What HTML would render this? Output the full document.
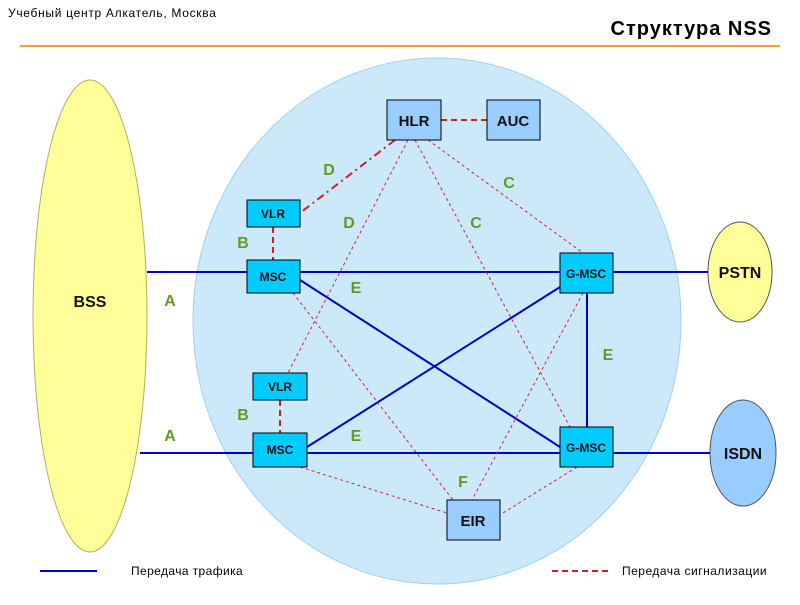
<!DOCTYPE html>
<html><head><meta charset="utf-8"><style>body{margin:0;background:#fff}</style></head><body>
<svg width="800" height="600" xmlns="http://www.w3.org/2000/svg" font-family="Liberation Sans, sans-serif">
<text x="8" y="17" font-size="12" letter-spacing="0.7" fill="#000">Учебный центр Алкатель, Москва</text>
<text x="772" y="35" font-size="20" font-weight="bold" letter-spacing="1" text-anchor="end" fill="#000">Структура NSS</text>
<line x1="20" y1="46" x2="780" y2="46" stroke="#f0a030" stroke-width="2"/>
<ellipse cx="437" cy="321" rx="244" ry="263" fill="#cce9fb" stroke="#9fd0f0"/>
<ellipse cx="90" cy="316" rx="57" ry="236" fill="#ffff99" stroke="#b0b060"/>
<ellipse cx="740" cy="272" rx="32" ry="50" fill="#ffff99" stroke="#555"/>
<ellipse cx="743" cy="453" rx="33" ry="53" fill="#99ccff" stroke="#555"/>
<g stroke="#0000cc" stroke-width="2">
<line x1="147" y1="272" x2="708" y2="272"/>
<line x1="140" y1="453" x2="710" y2="453"/>
<line x1="300" y1="280" x2="560" y2="447"/>
<line x1="307" y1="447" x2="560" y2="287"/>
<line x1="587" y1="293" x2="587" y2="427"/>
</g>
<g stroke="#cc2233" stroke-width="1" stroke-dasharray="3,3" fill="none">
<line x1="408" y1="140" x2="288" y2="373"/>
<line x1="415" y1="140" x2="570" y2="427"/>
<line x1="428" y1="140" x2="583" y2="253"/>
<line x1="293" y1="293" x2="453" y2="500"/>
<line x1="583" y1="293" x2="472" y2="500"/>
<line x1="300" y1="467" x2="447" y2="513"/>
<line x1="577" y1="467" x2="503" y2="513"/>
</g>
<line x1="395" y1="140" x2="300" y2="213" stroke="#cc2222" stroke-width="2" stroke-dasharray="8,4,2,4"/>
<g stroke="#cc2222" stroke-width="2" stroke-dasharray="6,4">
<line x1="441" y1="120" x2="487" y2="120"/>
<line x1="273" y1="227" x2="273" y2="260"/>
<line x1="280" y1="400" x2="280" y2="433"/>
</g>
<g stroke="#000" stroke-width="1">
<rect x="387" y="100" width="54" height="40" fill="#99ccff"/>
<rect x="487" y="100" width="53" height="40" fill="#99ccff"/>
<rect x="447" y="500" width="53" height="40" fill="#99ccff"/>
<rect x="247" y="200" width="53" height="27" fill="#00ccff"/>
<rect x="247" y="260" width="53" height="33" fill="#00ccff"/>
<rect x="253" y="373" width="54" height="27" fill="#00ccff"/>
<rect x="253" y="433" width="54" height="34" fill="#00ccff"/>
<rect x="560" y="253" width="53" height="40" fill="#00ccff"/>
<rect x="560" y="427" width="53" height="40" fill="#00ccff"/>
</g>
<g font-weight="bold" text-anchor="middle" fill="#111">
<text x="414" y="126" font-size="15">HLR</text>
<text x="513" y="126" font-size="15">AUC</text>
<text x="473" y="526" font-size="15">EIR</text>
<text x="273" y="218" font-size="12">VLR</text>
<text x="273" y="281" font-size="12">MSC</text>
<text x="280" y="391" font-size="12">VLR</text>
<text x="280" y="454" font-size="12">MSC</text>
<text x="586" y="278" font-size="12">G-MSC</text>
<text x="586" y="452" font-size="12">G-MSC</text>
<text x="90" y="307" font-size="16">BSS</text>
<text x="740" y="278" font-size="16">PSTN</text>
<text x="743" y="459" font-size="16">ISDN</text>
</g>
<g font-weight="bold" font-size="16" fill="#669922" text-anchor="middle">
<text x="329" y="175">D</text><text x="349" y="228">D</text>
<text x="509" y="188">C</text><text x="476" y="228">C</text>
<text x="243" y="248">B</text><text x="243" y="420">B</text>
<text x="356" y="293">E</text><text x="356" y="441">E</text><text x="608" y="360">E</text>
<text x="170" y="306">A</text><text x="170" y="441">A</text>
<text x="463" y="487">F</text>
</g>
<line x1="40" y1="571" x2="97" y2="571" stroke="#0000cc" stroke-width="2"/>
<text x="131" y="575" font-size="12" letter-spacing="0.4">Передача трафика</text>
<line x1="552" y1="571" x2="610" y2="571" stroke="#cc2222" stroke-width="2" stroke-dasharray="6,4"/>
<text x="622" y="575" font-size="12" letter-spacing="0.5">Передача сигнализации</text>
</svg>
</body></html>
